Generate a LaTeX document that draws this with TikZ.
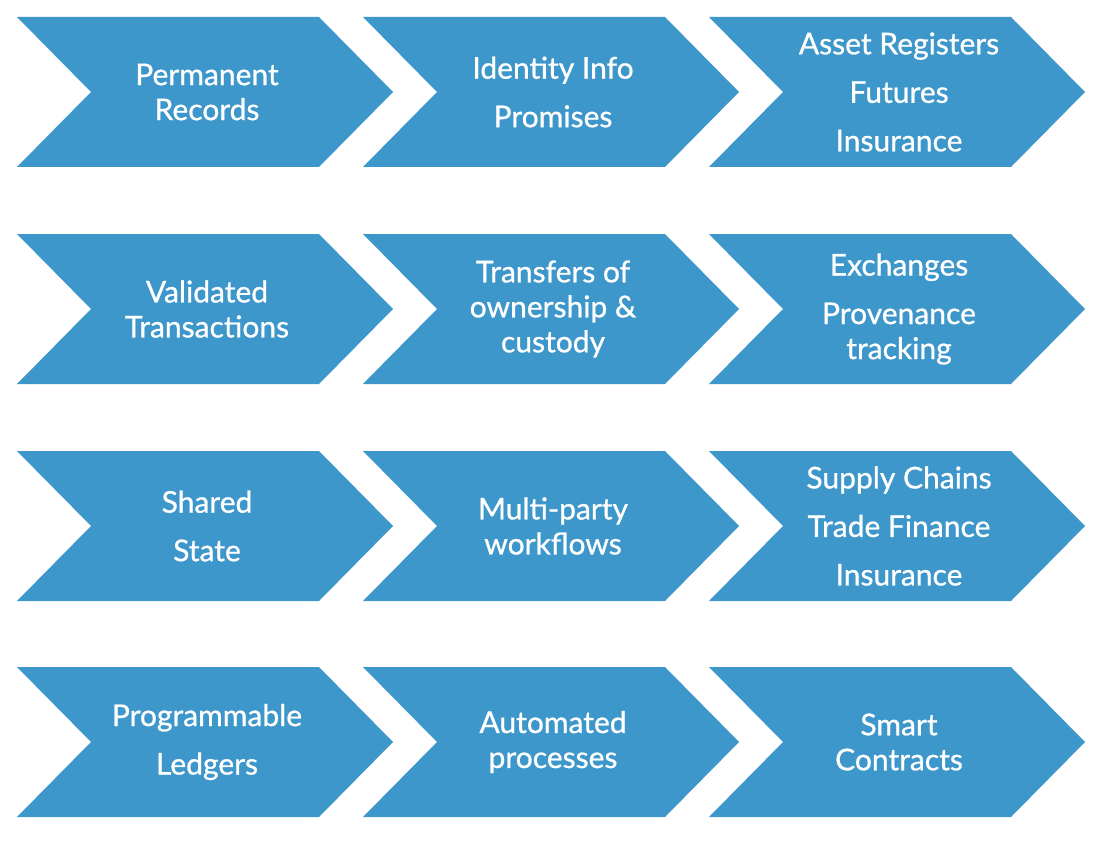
\documentclass[tikz,border=0pt]{standalone}
\usepackage{fontspec}
\setmainfont{Lato}
\newfontface\chevfont{Lato}[FakeBold=0.8]
\definecolor{chev}{HTML}{3D97CA}
\tikzset{
  chevfill/.style={fill=chev},
  chevtext/.style={text=white, align=center, font=\chevfont\fontsize{30}{35}\selectfont, inner sep=0pt},
}
\newcommand\mychev[4]{%
  \fill[chevfill] (#1,#2) -- ++(302,0) -- ++(74,75) -- ++(-74,75) -- ++(-302,0) -- ++(74,-75) -- cycle;
  \node[chevtext] (#3) at (#1+190,#2+75) {#4};
}
\begin{document}
\begin{tikzpicture}[x=1pt,y=-1pt]
\useasboundingbox (0,0) rectangle (1101,848);
\mychev{17}{17}{permrec}{Permanent\\Records}
\mychev{363}{17}{identity}{Identity Info\\[13.5pt]Promises}
\mychev{709}{17}{asset}{Asset Registers\\[13.5pt]Futures\\[13.5pt]Insurance}
\mychev{17}{234}{validated}{Validated\\Transactions}
\mychev{363}{234}{transfers}{Transfers of\\ownership \&\\custody}
\mychev{709}{234}{exchanges}{Exchanges\\[13.5pt]Provenance\\tracking}
\mychev{17}{451}{shared}{Shared\\[13.5pt]State}
\mychev{363}{451}{multiparty}{Multi-party\\workflows}
\mychev{709}{451}{supply}{Supply Chains\\[13.5pt]Trade Finance\\[13.5pt]Insurance}
\mychev{17}{667}{programmable}{Programmable\\[13.5pt]Ledgers}
\mychev{363}{667}{automated}{Automated\\processes}
\mychev{709}{667}{smart}{Smart\\Contracts}
\end{tikzpicture}
\end{document}
